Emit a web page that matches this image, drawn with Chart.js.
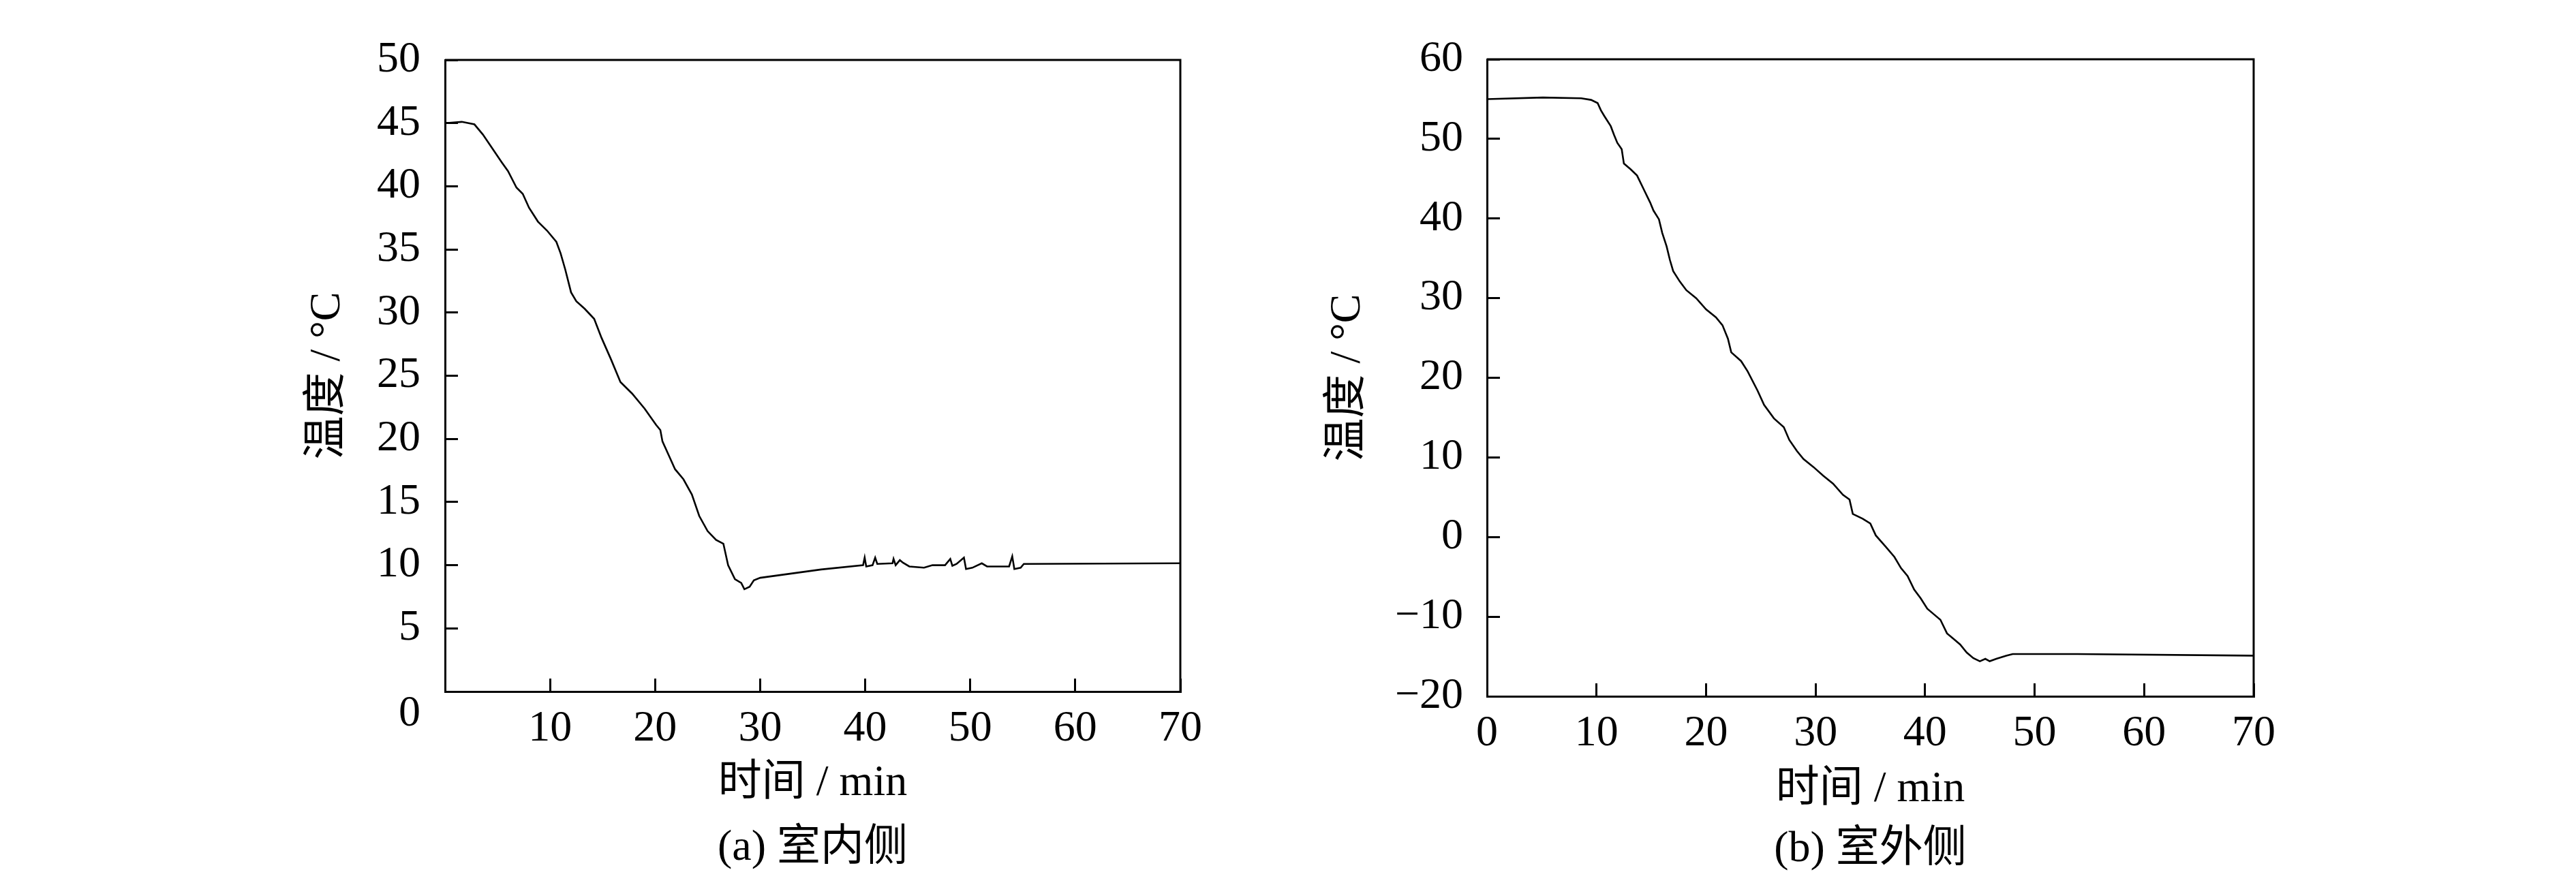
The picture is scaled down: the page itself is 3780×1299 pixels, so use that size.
<!DOCTYPE html>
<html>
<head>
<meta charset="utf-8">
<script src="https://cdn.jsdelivr.net/npm/chart.js@4.4.0/dist/chart.umd.min.js"></script>
<style>
  html, body { margin: 0; padding: 0; background: #fff; }
  body { width: 3780px; height: 1299px; position: relative; overflow: hidden; }
  .box { position: absolute; top: 0; height: 1299px; }
</style>
</head>
<body>
<div class="box" id="boxA" style="left:400px;width:1400px;"><canvas id="chartA"></canvas></div>
<div class="box" id="boxB" style="left:1900px;width:1500px;"><canvas id="chartB"></canvas></div>
<script>
// ---- Data (a) 室内侧 ----
const timeA = [0, 1.6, 2.8, 3.6, 4.5, 5.4, 6.0, 6.8, 7.4, 8.0, 8.85, 9.7, 10.6, 11.0, 11.45, 12.0, 12.5, 13.3, 14.2, 14.9, 15.8, 16.7, 17.8, 19.0, 20.1, 20.5, 20.7, 21.3, 21.9, 22.7, 23.5, 24.2, 25.0, 25.8, 26.5, 26.95, 27.6, 28.2, 28.5, 29.0, 29.4, 30.0, 35.8, 39.8, 39.95, 40.1, 40.7, 40.95, 41.15, 42.6, 42.7, 42.9, 43.3, 43.6, 44.2, 45.6, 46.4, 47.6, 48.1, 48.3, 48.7, 49.4, 49.6, 50.2, 51.1, 51.6, 53.7, 54.0, 54.2, 54.8, 55.1, 70];
const tempA = [45.0, 45.1, 44.9, 44.1, 43.0, 41.9, 41.2, 39.9, 39.4, 38.3, 37.2, 36.5, 35.6, 34.7, 33.4, 31.6, 30.9, 30.3, 29.5, 28.0, 26.3, 24.5, 23.6, 22.4, 21.1, 20.7, 19.8, 18.7, 17.6, 16.8, 15.6, 13.9, 12.7, 12.0, 11.7, 10.0, 8.9, 8.6, 8.1, 8.3, 8.8, 9.0, 9.66, 10.0, 10.6, 9.9, 10.0, 10.6, 10.1, 10.15, 10.5, 10.0, 10.4, 10.2, 9.9, 9.8, 10.0, 10.0, 10.5, 9.95, 10.1, 10.6, 9.7, 9.8, 10.15, 9.9, 9.9, 10.7, 9.7, 9.8, 10.1, 10.15];
// ---- Data (b) 室外侧 ----
const timeB = [0, 5.1, 8.6, 9.5, 10.1, 10.4, 10.7, 11.3, 11.6, 11.9, 12.3, 12.5, 13.1, 13.7, 14.3, 14.9, 15.2, 15.7, 16.0, 16.4, 16.7, 17.0, 17.6, 18.2, 19.1, 20.0, 20.9, 21.5, 22.0, 22.3, 23.2, 23.8, 24.7, 25.3, 26.2, 27.1, 27.6, 28.3, 28.9, 29.8, 30.7, 31.6, 32.5, 33.1, 33.4, 34.3, 35.0, 35.5, 36.4, 37.2, 37.8, 38.4, 39.0, 39.6, 40.2, 40.8, 41.4, 42.0, 42.6, 43.2, 43.8, 44.4, 45.0, 45.5, 45.9, 46.5, 47.4, 48.0, 53.9, 70];
const tempB = [55.0, 55.2, 55.1, 54.9, 54.5, 53.6, 52.9, 51.6, 50.5, 49.5, 48.7, 46.9, 46.2, 45.4, 43.7, 42.0, 41.0, 39.9, 38.2, 36.5, 34.8, 33.4, 32.1, 31.0, 30.0, 28.6, 27.6, 26.6, 24.9, 23.2, 22.1, 20.8, 18.4, 16.6, 14.9, 13.8, 12.2, 10.8, 9.8, 8.8, 7.7, 6.7, 5.3, 4.7, 2.9, 2.3, 1.7, 0.2, -1.2, -2.5, -3.9, -4.9, -6.6, -7.7, -9.0, -9.7, -10.4, -12.1, -12.8, -13.5, -14.5, -15.2, -15.6, -15.3, -15.6, -15.3, -14.9, -14.7, -14.7, -14.9];

// ---- Axis text ----
const xTitle = '时间 / min';
const yTitle = '温度 / °C';
const captionA = '(a) 室内侧';
const captionB = '(b) 室外侧';
const xTicksA = [0, 70, 10];   // min, max, step
const yTicksA = [0, 50, 5];
const xTicksB = [0, 70, 10];
const yTicksB = [-20, 60, 10];

const FONT = "'Liberation Serif', 'Times New Roman', 'Noto Sans CJK SC', serif";
const FS = 64;

const frame = {
  id: 'frame',
  afterDraw(chart) {
    const {ctx, chartArea: a} = chart;
    ctx.save();
    ctx.strokeStyle = '#000';
    ctx.lineWidth = 3;
    ctx.beginPath();
    ctx.moveTo(a.left, a.top);
    ctx.lineTo(a.right, a.top);
    ctx.lineTo(a.right, a.bottom);
    ctx.stroke();
    ctx.restore();
  }
};

function makeChart(id, times, temps, xT, yT, caption, opts) {
  const pts = times.map((t, i) => ({x: t, y: temps[i]}));
  return new Chart(document.getElementById(id), {
    type: 'line',
    data: { datasets: [{ data: pts, borderColor: '#000', borderWidth: 2.6, pointRadius: 0, tension: 0, fill: false }] },
    options: {
      responsive: true,
      maintainAspectRatio: false,
      animation: false,
      devicePixelRatio: 1,
      plugins: { legend: { display: false }, tooltip: { enabled: false } },
      layout: { padding: { left: 0, top: opts.top, right: opts.right, bottom: 0 } },
      scales: {
        x: {
          type: 'linear', min: xT[0], max: xT[1],
          afterFit(s) { s.height = opts.xH; },
          ticks: {
            stepSize: xT[2], autoSkip: false, maxRotation: 0, color: '#000', padding: 36,
            font: { family: FONT, size: FS },
            callback: (v) => (opts.hideX0 && v === 0) ? '' : String(v)
          },
          grid: { drawOnChartArea: false, drawTicks: true, tickLength: -19, tickWidth: 3, color: '#000' },
          border: { display: true, color: '#000', width: 3 },
          title: {
            display: true, text: [xTitle, caption], color: '#000',
            font: { family: FONT, size: FS, lineHeight: opts.capLH + 'px' },
            padding: { top: 0, bottom: opts.capPad }
          }
        },
        y: {
          type: 'linear', min: yT[0], max: yT[1],
          afterFit(s) { s.width = opts.yW; },
          ticks: {
            stepSize: yT[2], autoSkip: false, color: '#000', padding: opts.yPad,
            font: { family: FONT, size: FS, lineHeight: '66px' },
            callback: (v) => {
              if (opts.split0 && v === 0) return ['', '0'];
              return String(v).replace('-', '\u2212');
            }
          },
          grid: { drawOnChartArea: false, drawTicks: true, tickLength: -19, tickWidth: 3, color: '#000' },
          border: { display: true, color: '#000', width: 3 },
          title: {
            display: true, text: yTitle, color: '#000',
            font: { family: FONT, size: FS },
            padding: { top: opts.yTitlePad, bottom: 0 }
          }
        }
      }
    },
    plugins: [frame]
  });
}

makeChart('chartA', timeA, tempA, xTicksA, yTicksA, captionA,
  { top: 85, right: 68, xH: 284, yW: 253, yPad: 55, yTitlePad: 43, capLH: 95, capPad: 6, hideX0: true, split0: true });
makeChart('chartB', timeB, tempB, xTicksB, yTicksB, captionB,
  { top: 54, right: 93, xH: 277, yW: 282, yPad: 54, yTitlePad: 40, capLH: 88, capPad: 8, hideX0: false, split0: false });
</script>
</body>
</html>
